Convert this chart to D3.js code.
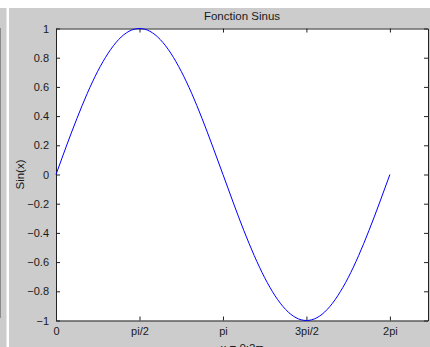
<!DOCTYPE html>
<html>
<head>
<meta charset="utf-8">
<script src="https://cdn.jsdelivr.net/npm/d3@7"></script>
<style>
  html, body { margin: 0; padding: 0; background: #fff; overflow: hidden; }
  svg { display: block; }
  text { font-family: Arial, "Liberation Sans", sans-serif; fill: #1a1a1a; }
</style>
</head>
<body>
<div id="chart"></div>
<script>
// samples of sin(x), step pi/16
const xValues = [0, 0.196, 0.393, 0.589, 0.785, 0.982, 1.178, 1.374, 1.571, 1.767, 1.963, 2.160, 2.356,
  2.553, 2.749, 2.945, 3.142, 3.338, 3.534, 3.731, 3.927, 4.123, 4.320, 4.516, 4.712, 4.909, 5.105,
  5.301, 5.498, 5.694, 5.890, 6.087, 6.283];
const yValues = [0, 0.195, 0.383, 0.556, 0.707, 0.831, 0.924, 0.981, 1, 0.981, 0.924, 0.831, 0.707,
  0.556, 0.383, 0.195, 0, -0.195, -0.383, -0.556, -0.707, -0.831, -0.924, -0.981, -1, -0.981, -0.924,
  -0.831, -0.707, -0.556, -0.383, -0.195, 0];

const xTickValues = [0, 1.571, 3.142, 4.712, 6.283];
const xTickLabels = ['0', 'pi/2', 'pi', '3pi/2', '2pi'];
const yTickValues = [-1, -0.8, -0.6, -0.4, -0.2, 0, 0.2, 0.4, 0.6, 0.8, 1];
const xDomain = [0, 7];
const yDomain = [-1, 1];

const titleText = 'Fonction Sinus';
const xLabelText = 'x = 0:2\u03c0';
const yLabelText = 'Sin(x)';

const width = 430;
const height = 347;
const plot = { left: 56, top: 28.5, right: 428, bottom: 320.5 };

const svg = d3.select('#chart').append('svg').attr('width', width).attr('height', height);

// figure background (matlab-ish grey panels)
svg.append('rect').attr('x', 0).attr('y', 0).attr('width', width).attr('height', height).attr('fill', '#fff');
svg.append('rect').attr('x', 0).attr('y', 8).attr('width', 6.5).attr('height', height - 8).attr('fill', '#cccccc');
svg.append('line').attr('x1', 0.5).attr('x2', 0.5).attr('y1', 28).attr('y2', 318)
  .attr('stroke', '#8a8a8a').attr('stroke-width', 1);
svg.append('rect').attr('x', 9).attr('y', 8).attr('width', width - 9).attr('height', height - 8).attr('fill', '#cccccc');

const x = d3.scaleLinear().domain(xDomain).range([plot.left, plot.right]);
const y = d3.scaleLinear().domain(yDomain).range([plot.bottom, plot.top]);

// axes box
svg.append('rect')
  .attr('x', plot.left).attr('y', plot.top)
  .attr('width', plot.right - plot.left).attr('height', plot.bottom - plot.top)
  .attr('fill', '#fff');

const tickLen = 4;
const axisColor = '#222';

const bottomAxis = d3.axisBottom(x).tickValues(xTickValues)
  .tickFormat((d, i) => xTickLabels[i]).tickSizeInner(-tickLen).tickSizeOuter(0).tickPadding(7);
const topAxis = d3.axisTop(x).tickValues(xTickValues).tickFormat('').tickSizeInner(-tickLen).tickSizeOuter(0);
const leftAxis = d3.axisLeft(y).tickValues(yTickValues)
  .tickFormat(d => d3.format('')(+d.toFixed(1))).tickSizeInner(-tickLen).tickSizeOuter(0).tickPadding(7);
const rightAxis = d3.axisRight(y).tickValues(yTickValues).tickFormat('').tickSizeInner(-tickLen).tickSizeOuter(0);

function styleAxis(g) {
  g.select('.domain').attr('stroke', axisColor);
  g.selectAll('.tick line').attr('stroke', axisColor);
  g.selectAll('.tick text').attr('fill', '#1a1a1a')
    .style('font-family', 'Arial, "Liberation Sans", sans-serif').style('font-size', '11px');
}

svg.append('g').attr('transform', `translate(0,${plot.bottom})`).call(bottomAxis).call(styleAxis);
svg.append('g').attr('transform', `translate(0,${plot.top})`).call(topAxis).call(styleAxis);
svg.append('g').attr('transform', `translate(${plot.left},0)`).call(leftAxis).call(styleAxis);
svg.append('g').attr('transform', `translate(${plot.right},0)`).call(rightAxis).call(styleAxis);

// sine curve
const pts = xValues.map((v, i) => [v, yValues[i]]);
const line = d3.line().x(d => x(d[0])).y(d => y(d[1])).curve(d3.curveNatural);
svg.append('path').datum(pts)
  .attr('d', line)
  .attr('fill', 'none')
  .attr('stroke', '#0000ff')
  .attr('stroke-width', 1);

// labels
const midX = (plot.left + plot.right) / 2;
svg.append('text').attr('x', midX).attr('y', 19.5)
  .attr('text-anchor', 'middle').style('font-size', '11.5px').text(titleText);
svg.append('text').attr('x', midX).attr('y', 352)
  .attr('text-anchor', 'middle').style('font-size', '11.5px').text(xLabelText);
svg.append('text')
  .attr('transform', `translate(24,${(plot.top + plot.bottom) / 2}) rotate(-90)`)
  .attr('text-anchor', 'middle').style('font-size', '11.5px').text(yLabelText);
</script>
</body>
</html>
